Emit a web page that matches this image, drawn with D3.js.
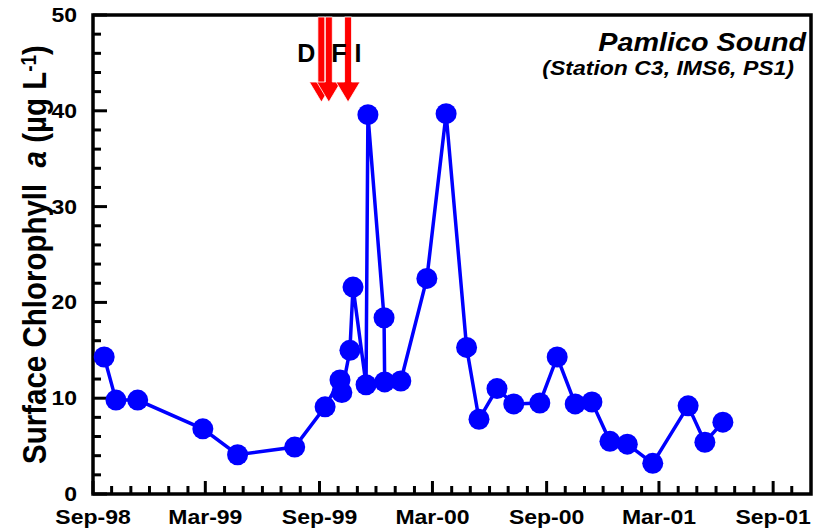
<!DOCTYPE html>
<html>
<head>
<meta charset="utf-8">
<script src="https://cdn.jsdelivr.net/npm/d3@7"></script>
<style>
  body { margin: 0; background: #fff; }
  svg { display: block; font-family: "Liberation Sans", Arial, sans-serif; }
</style>
</head>
<body>
<div id="chart"></div>
<script>
// sampling dates and surface chl a (ug/L)
const sampleDates = [
  "1998-09-19", "1998-10-08", "1998-11-12", "1999-02-25", "1999-04-22", "1999-07-23",
  "1999-09-10", "1999-10-04", "1999-10-07", "1999-10-20", "1999-10-25", "1999-11-15",
  "1999-11-18", "1999-12-14", "1999-12-15", "2000-01-10", "2000-02-21", "2000-03-23",
  "2000-04-25", "2000-05-15", "2000-06-13", "2000-07-10", "2000-08-21", "2000-09-18",
  "2000-10-17", "2000-11-13", "2000-12-12", "2001-01-09", "2001-02-19", "2001-04-17",
  "2001-05-14", "2001-06-12"
];
const chlA = [
  14.3, 9.8, 9.8, 6.8, 4.1, 4.9,
  9.1, 11.9, 10.6, 15.0, 21.6, 11.4,
  39.6, 18.4, 11.7, 11.8, 22.5, 39.7,
  15.3, 7.8, 11.0, 9.4, 9.5, 14.3,
  9.4, 9.6, 5.5, 5.2, 3.2, 9.2,
  5.4, 7.5
];

// hurricanes Dennis, Floyd, Irene
const stormLabels = ["D", "F", "I"];
const stormDates = ["1999-09-04", "1999-09-16", "1999-10-17"];
const stormLabelDx = [-15, 10, 10];

const yTicks = [0, 10, 20, 30, 40, 50];
const xTickDates = ["1998-09-01", "1999-03-01", "1999-09-01", "2000-03-01", "2000-09-01", "2001-03-01", "2001-09-01"];
const xTickLabels = ["Sep-98", "Mar-99", "Sep-99", "Mar-00", "Sep-00", "Mar-01", "Sep-01"];
const xDomain = ["1998-09-01", "2001-11-01"];

const parse = d3.timeParse("%Y-%m-%d");
const W = 828, H = 531;
const sx = 1.15; // text in the figure is a bit wide

const svg = d3.select("#chart").append("svg")
    .attr("width", W)
    .attr("height", H);

const x = d3.scaleTime()
    .domain(xDomain.map(parse))
    .range([93, 811]);

const y = d3.scaleLinear()
    .domain([0, 50])
    .range([494, 15]);

// ticks, pointing inward
const minorX = d3.timeMonth.range(x.domain()[0], x.domain()[1]);
const majorX = xTickDates.map(parse);
const isMajorX = d => majorX.some(m => +m === +d);

svg.selectAll("line.xtick")
    .data(minorX)
    .enter().append("line")
    .attr("class", "xtick")
    .attr("x1", d => x(d)).attr("x2", d => x(d))
    .attr("y1", y(0))
    .attr("y2", d => y(0) - (isMajorX(d) ? 13 : 8))
    .attr("stroke", "#000")
    .attr("stroke-width", 3);

const minorY = d3.range(0, 51, 2);
svg.selectAll("line.ytick")
    .data(minorY)
    .enter().append("line")
    .attr("class", "ytick")
    .attr("x1", x.range()[0])
    .attr("x2", d => x.range()[0] + (d % 10 === 0 ? 14 : 8))
    .attr("y1", d => y(d)).attr("y2", d => y(d))
    .attr("stroke", "#000")
    .attr("stroke-width", 3);

// frame
svg.append("rect")
    .attr("x", x.range()[0])
    .attr("y", y(50))
    .attr("width", x.range()[1] - x.range()[0])
    .attr("height", y(0) - y(50))
    .attr("fill", "none")
    .attr("stroke", "#000")
    .attr("stroke-width", 3.5);

// tick labels
svg.selectAll("text.xlab")
    .data(majorX)
    .enter().append("text")
    .attr("class", "xlab")
    .attr("transform", d => "translate(" + x(d) + ",524) scale(" + sx + ",1)")
    .attr("text-anchor", "middle")
    .style("font-size", "20px")
    .style("font-weight", "bold")
    .text((d, i) => xTickLabels[i]);

svg.selectAll("text.ylab")
    .data(yTicks)
    .enter().append("text")
    .attr("class", "ylab")
    .attr("transform", d => "translate(77," + (y(d) + 7) + ") scale(" + sx + ",1)")
    .attr("text-anchor", "end")
    .style("font-size", "20px")
    .style("font-weight", "bold")
    .text(d => d);

// y axis title
const yt = svg.append("text")
    .attr("transform", "translate(46," + ((y(0) + y(50)) / 2) + ") scale(" + sx + ",1) rotate(-90)")
    .attr("text-anchor", "middle")
    .style("font-size", "29.5px")
    .style("font-weight", "bold");
yt.append("tspan").text("Surface Chlorophyll\u00a0 ");
yt.append("tspan").style("font-style", "italic").text("a");
yt.append("tspan").text(" (\u00b5g L");
yt.append("tspan").attr("dy", "-0.45em").style("font-size", "19px").text("-1");
yt.append("tspan").attr("dy", "0.3em").text(")");

// title
svg.append("text")
    .attr("transform", "translate(806,51) scale(" + sx + ",1)")
    .attr("text-anchor", "end")
    .style("font-size", "25px")
    .style("font-weight", "bold")
    .style("font-style", "italic")
    .text("Pamlico Sound");

svg.append("text")
    .attr("transform", "translate(794,75) scale(" + sx + ",1)")
    .attr("text-anchor", "end")
    .style("font-size", "20px")
    .style("font-weight", "bold")
    .style("font-style", "italic")
    .text("(Station C3, IMS6, PS1)");

// data
const data = sampleDates.map((d, i) => ({ date: parse(d), value: chlA[i] }));

svg.append("path")
    .datum(data)
    .attr("fill", "none")
    .attr("stroke", "#0000ff")
    .attr("stroke-width", 3.5)
    .attr("d", d3.line().x(d => x(d.date)).y(d => y(d.value)));

svg.selectAll("circle.pt")
    .data(data)
    .enter().append("circle")
    .attr("class", "pt")
    .attr("cx", d => x(d.date))
    .attr("cy", d => y(d.value))
    .attr("r", 10.5)
    .attr("fill", "#0000ff");

// storm arrows
const storms = stormDates.map((d, i) => ({ date: parse(d), label: stormLabels[i], dx: stormLabelDx[i] }));
const arrowTop = y(50), headY = 82, tipY = 102;

svg.selectAll("path.arrow")
    .data(storms)
    .enter().append("path")
    .attr("class", "arrow")
    .attr("fill", "#ff0000")
    .attr("stroke", "#fff")
    .attr("stroke-width", 0.8)
    .attr("d", d => {
      const cx = x(d.date);
      return `M${cx - 3.5},${arrowTop + 2} L${cx + 3.5},${arrowTop + 2} L${cx + 3.5},${headY}
              L${cx + 12},${headY} L${cx},${tipY} L${cx - 12},${headY}
              L${cx - 3.5},${headY} Z`;
    });

svg.selectAll("text.storm")
    .data(storms)
    .enter().append("text")
    .attr("class", "storm")
    .attr("x", d => x(d.date) + d.dx)
    .attr("y", 62)
    .attr("text-anchor", "middle")
    .style("font-size", "25px")
    .style("font-weight", "bold")
    .text(d => d.label);
</script>
</body>
</html>
